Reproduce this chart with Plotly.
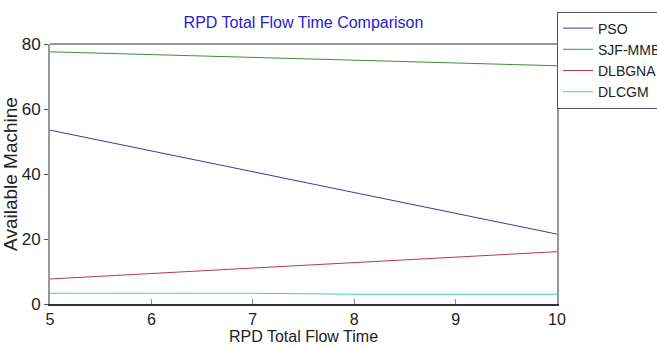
import plotly.graph_objects as go

x_vals = [5, 6, 7, 8, 9, 10]
pso = [53.5, 47.1, 40.7, 34.3, 27.9, 21.5]
sjf_mmbf = [77.6, 76.7, 75.9, 75.0, 74.1, 73.3]
dlbgna = [7.7, 9.4, 11.1, 12.7, 14.4, 16.1]
dlcgm = [3.3, 3.3, 3.3, 3.0, 3.0, 3.0]

series = [
    ("PSO", pso, "#3b3b9a"),
    ("SJF-MMBF", sjf_mmbf, "#3c8f3c"),
    ("DLBGNA", dlbgna, "#b83a4a"),
    ("DLCGM", dlcgm, "#4cc3c3"),
]

FONT = "Liberation Sans, Arial, sans-serif"

fig = go.Figure()
for name, vals, col in series:
    fig.add_trace(go.Scatter(x=x_vals, y=vals, mode="lines", name=name,
                             line=dict(color=col, width=1)))

fig.update_layout(
    width=657, height=347,
    margin=dict(l=50, r=100, t=44, b=43, autoexpand=False),
    paper_bgcolor="white", plot_bgcolor="white",
    font=dict(family=FONT, color="#222"),
    title=dict(text="RPD Total Flow Time Comparison", x=0.5, xanchor="center",
               xref="paper", y=0.935, yanchor="middle",
               font=dict(family=FONT, size=16, color="#2323cc")),
    showlegend=True,
    legend=dict(x=1.0, xanchor="left", y=1.125, yanchor="top", xref="paper", yref="paper",
                bgcolor="white", bordercolor="#555", borderwidth=1,
                font=dict(family=FONT, size=14, color="#222"),
                tracegroupgap=0, itemwidth=30),
    xaxis=dict(range=[5, 10], tickvals=[5, 6, 7, 8, 9, 10], ticks="inside", ticklen=5,
               tickcolor="#888", showgrid=False, zeroline=False, showline=True,
               linecolor="#333", linewidth=1.5, mirror=False,
               tickfont=dict(family=FONT, size=16, color="#222"),
               title=dict(text="RPD Total Flow Time", standoff=2,
                          font=dict(family=FONT, size=16, color="#222"))),
    yaxis=dict(range=[0, 80], tickvals=[0, 20, 40, 60, 80], ticks="outside", ticklen=4,
               tickcolor="#555", showgrid=False, zeroline=False, showline=True,
               linecolor="#999", linewidth=2, mirror=True,
               tickfont=dict(family=FONT, size=17, color="#222"),
               title=dict(text="Available Machine", standoff=3,
                          font=dict(family=FONT, size=19, color="#222"))),
    shapes=[dict(type="line", xref="paper", yref="paper", x0=0, x1=1, y0=1, y1=1,
                 line=dict(color="#999", width=2))],
)

fig.write_html("out.html")
